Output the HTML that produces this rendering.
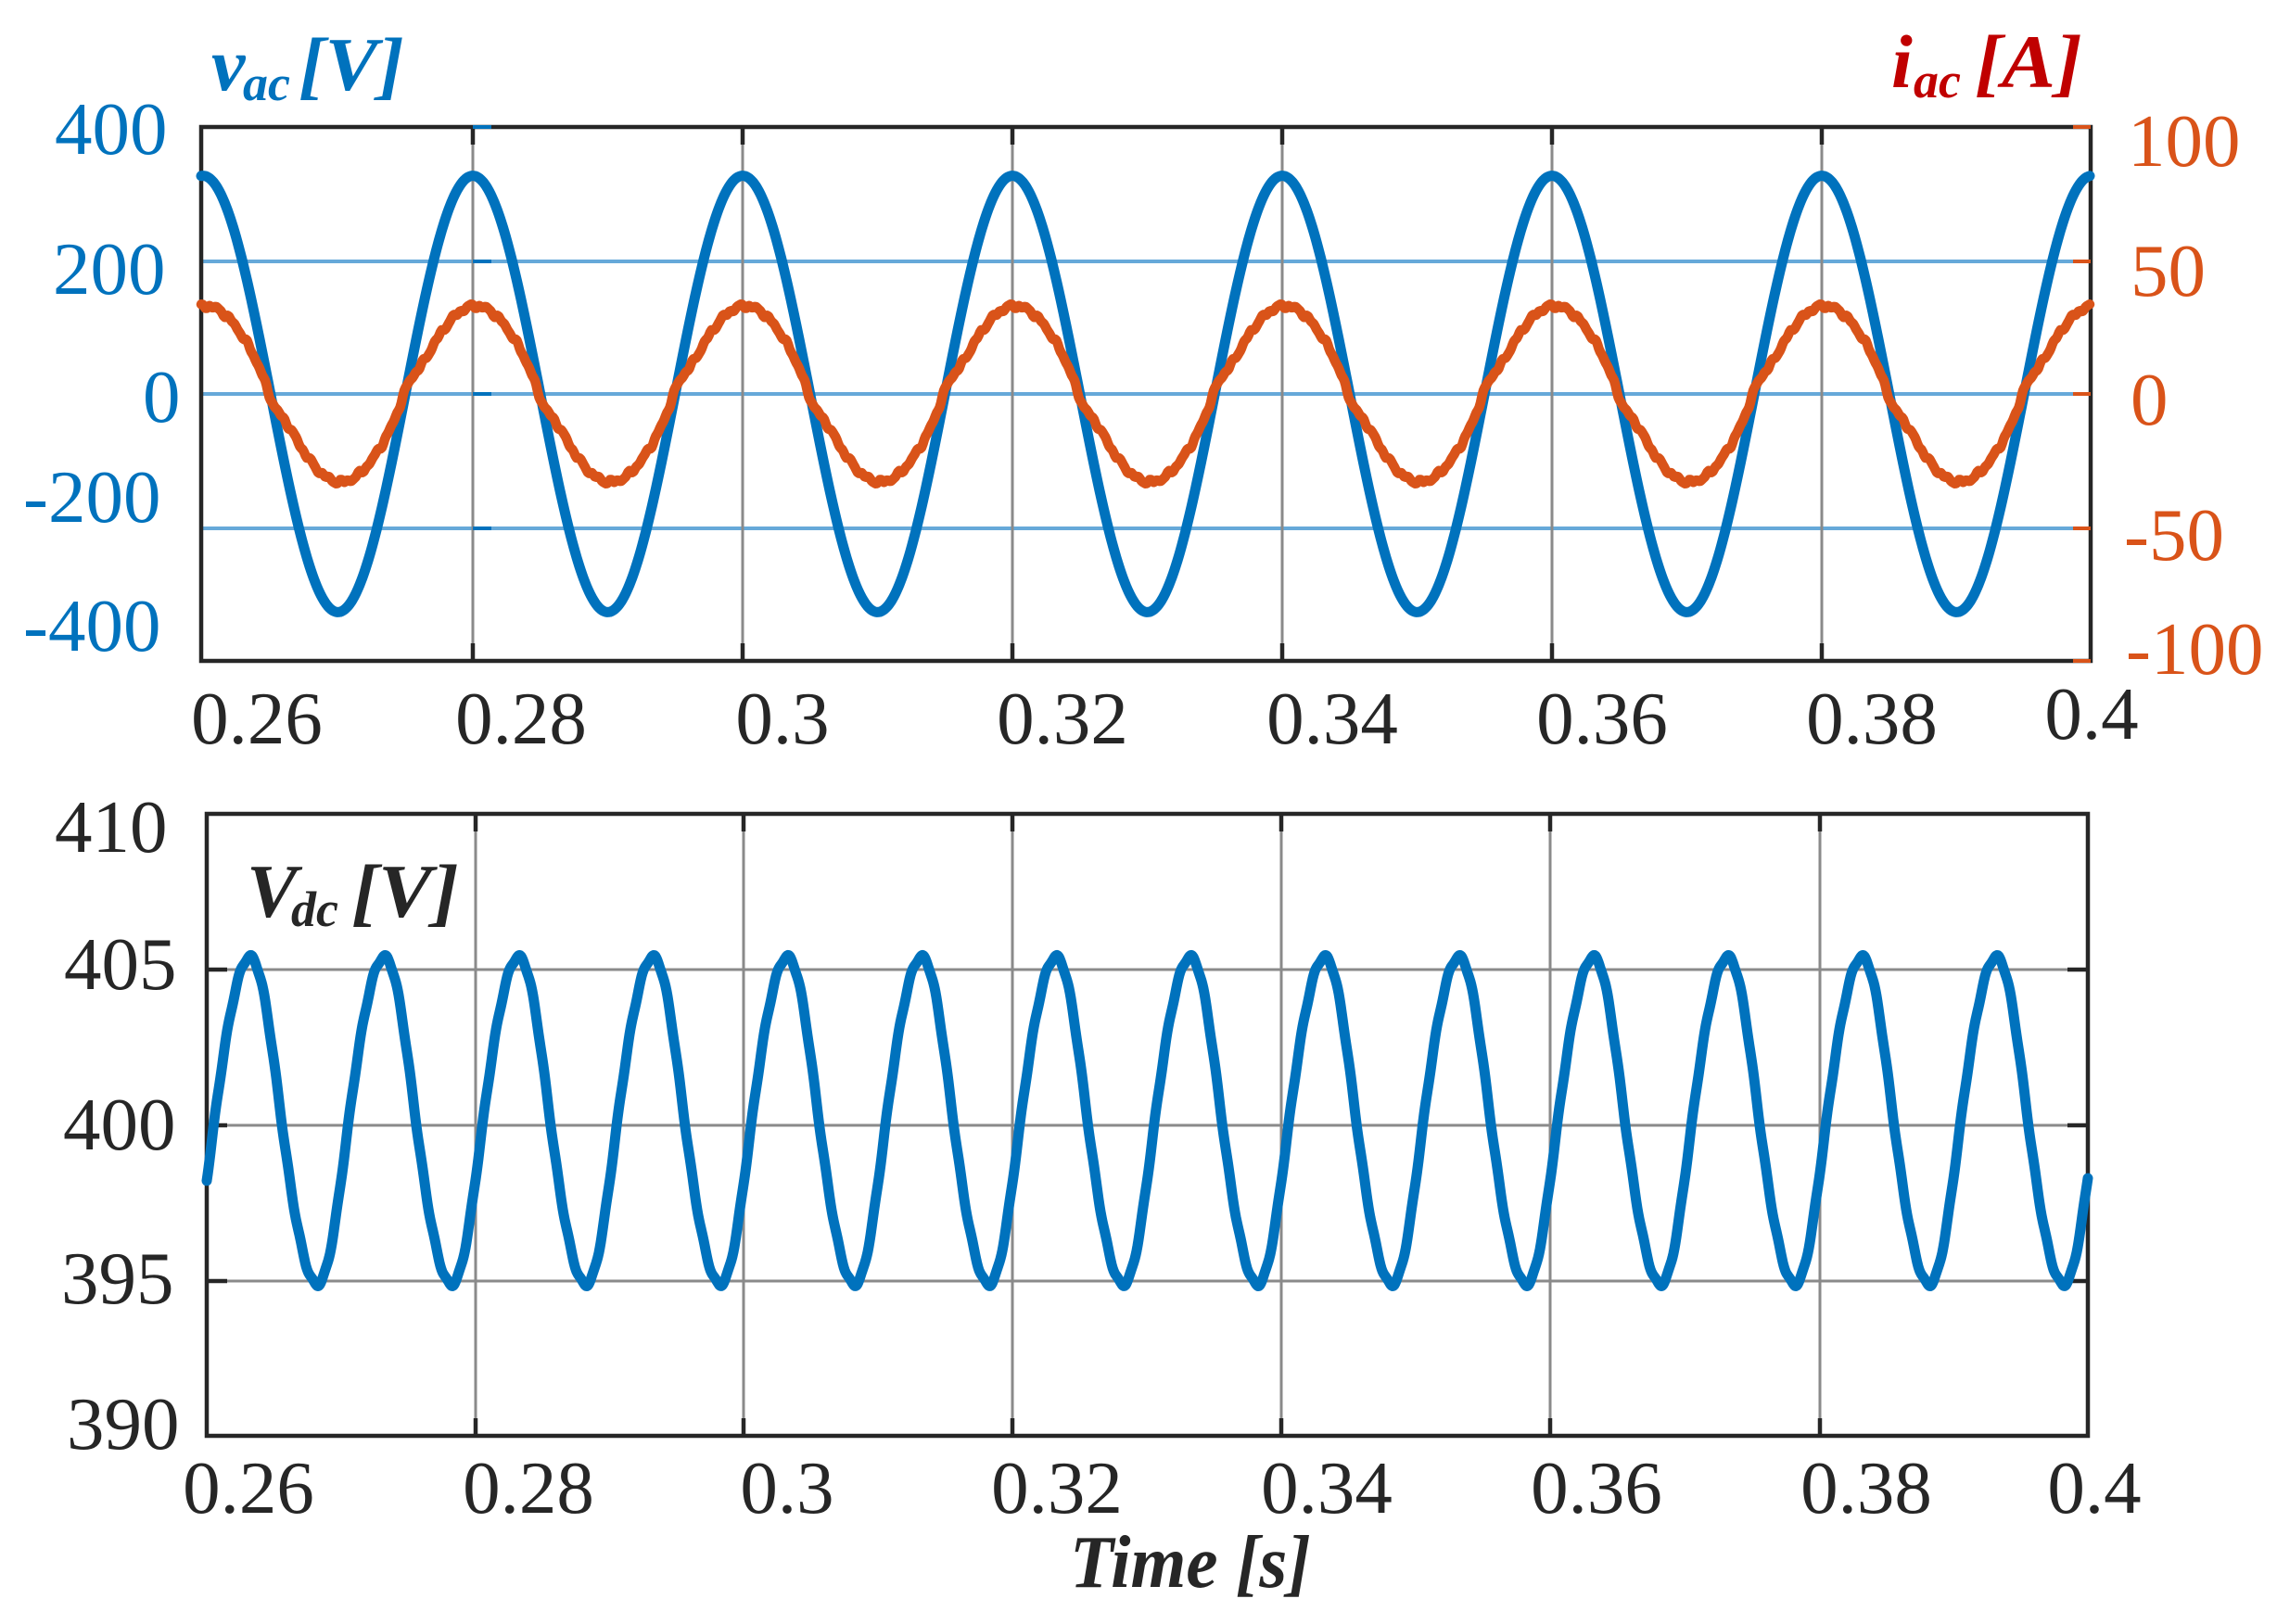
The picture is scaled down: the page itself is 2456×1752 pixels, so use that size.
<!DOCTYPE html>
<html>
<head>
<meta charset="utf-8">
<style>
  html,body{margin:0;padding:0;background:#fff;}
  svg{display:block;}
  text{font-family:"Liberation Serif","Times New Roman",serif;}
</style>
</head>
<body>
<svg id="s" width="2456" height="1752" viewBox="0 0 2456 1752" xmlns="http://www.w3.org/2000/svg">
  <rect x="0" y="0" width="2456" height="1752" fill="#ffffff"/>

  <!-- ============ TOP PLOT ============ -->
  <g stroke="#66A9D9" stroke-width="4">
    <line x1="217" y1="282" x2="2255" y2="282"/>
    <line x1="217" y1="425" x2="2255" y2="425"/>
    <line x1="217" y1="570" x2="2255" y2="570"/>
  </g>
  <g stroke="#8a8a8a" stroke-width="3">
    <line x1="510" y1="137" x2="510" y2="713"/>
    <line x1="801" y1="137" x2="801" y2="713"/>
    <line x1="1092" y1="137" x2="1092" y2="713"/>
    <line x1="1383" y1="137" x2="1383" y2="713"/>
    <line x1="1674" y1="137" x2="1674" y2="713"/>
    <line x1="1965" y1="137" x2="1965" y2="713"/>
  </g>
  <rect x="217" y="137" width="2038" height="576" fill="none" stroke="#262626" stroke-width="4.5"/>
  <g stroke="#262626" stroke-width="4.5">
    <line x1="510" y1="137" x2="510" y2="156"/><line x1="510" y1="694" x2="510" y2="713"/>
    <line x1="801" y1="137" x2="801" y2="156"/><line x1="801" y1="694" x2="801" y2="713"/>
    <line x1="1092" y1="137" x2="1092" y2="156"/><line x1="1092" y1="694" x2="1092" y2="713"/>
    <line x1="1383" y1="137" x2="1383" y2="156"/><line x1="1383" y1="694" x2="1383" y2="713"/>
    <line x1="1674" y1="137" x2="1674" y2="156"/><line x1="1674" y1="694" x2="1674" y2="713"/>
    <line x1="1965" y1="137" x2="1965" y2="156"/><line x1="1965" y1="694" x2="1965" y2="713"/>
  </g>
  <g stroke="#0072BD" stroke-width="4">
    <line x1="510" y1="137" x2="530" y2="137"/>
    <line x1="510" y1="282" x2="530" y2="282"/>
    <line x1="510" y1="425" x2="530" y2="425"/>
    <line x1="510" y1="570" x2="530" y2="570"/>
  </g>
  <g stroke="#D95319" stroke-width="4">
    <line x1="2236" y1="137" x2="2255" y2="137"/>
    <line x1="2236" y1="282" x2="2255" y2="282"/>
    <line x1="2236" y1="425" x2="2255" y2="425"/>
    <line x1="2236" y1="570" x2="2255" y2="570"/>
    <line x1="2236" y1="713" x2="2255" y2="713"/>
  </g>
  <path id="vac" d="" fill="none" stroke="#0072BD" stroke-width="11" stroke-linecap="round" stroke-linejoin="round"/>
  <path id="iac" d="" fill="none" stroke="#D95319" stroke-width="10.5" stroke-linecap="round" stroke-linejoin="round"/>

  <!-- top left labels -->
  <g font-size="81" fill="#0072BD">
    <text x="59" y="166">400</text>
    <text x="57" y="317">200</text>
    <text x="154" y="455">0</text>
    <text x="25" y="563">-200</text>
    <text x="25" y="702">-400</text>
  </g>
  <!-- top right labels -->
  <g font-size="81" fill="#D95319">
    <text x="2295" y="179">100</text>
    <text x="2298" y="319">50</text>
    <text x="2298" y="458">0</text>
    <text x="2291" y="604">-50</text>
    <text x="2293" y="727">-100</text>
  </g>
  <!-- top x labels -->
  <g font-size="81" fill="#262626" text-anchor="middle">
    <text x="277" y="802">0.26</text>
    <text x="562" y="802">0.28</text>
    <text x="844" y="802">0.3</text>
    <text x="1146" y="802">0.32</text>
    <text x="1437" y="802">0.34</text>
    <text x="1728" y="802">0.36</text>
    <text x="2019" y="802">0.38</text>
    <text x="2256" y="797">0.4</text>
  </g>
  <!-- titles top -->
  <g font-weight="bold" font-style="italic" fill="#0072BD">
    <text x="228" y="97" font-size="82">v</text>
    <text x="262" y="108" font-size="54">ac</text>
    <text x="322" y="97" font-size="82" textLength="114" lengthAdjust="spacingAndGlyphs">[V]</text>
  </g>
  <g font-weight="bold" font-style="italic" fill="#C00000">
    <text x="2040" y="94" font-size="82">i</text>
    <text x="2064" y="105" font-size="54">ac</text>
    <text x="2130" y="94" font-size="82" textLength="116" lengthAdjust="spacingAndGlyphs">[A]</text>
  </g>

  <!-- ============ BOTTOM PLOT ============ -->
  <g stroke="#8a8a8a" stroke-width="3">
    <line x1="223" y1="1046" x2="2252" y2="1046"/>
    <line x1="223" y1="1214" x2="2252" y2="1214"/>
    <line x1="223" y1="1382" x2="2252" y2="1382"/>
    <line x1="513" y1="878" x2="513" y2="1549"/>
    <line x1="802" y1="878" x2="802" y2="1549"/>
    <line x1="1092" y1="878" x2="1092" y2="1549"/>
    <line x1="1382" y1="878" x2="1382" y2="1549"/>
    <line x1="1672" y1="878" x2="1672" y2="1549"/>
    <line x1="1963" y1="878" x2="1963" y2="1549"/>
  </g>
  <rect x="223" y="878" width="2029" height="671" fill="none" stroke="#262626" stroke-width="4.5"/>
  <g stroke="#262626" stroke-width="4.5">
    <line x1="223" y1="1046" x2="245" y2="1046"/>
    <line x1="223" y1="1214" x2="245" y2="1214"/>
    <line x1="223" y1="1382" x2="245" y2="1382"/>
    <line x1="2230" y1="1046" x2="2252" y2="1046"/>
    <line x1="2230" y1="1214" x2="2252" y2="1214"/>
    <line x1="2230" y1="1382" x2="2252" y2="1382"/>
    <line x1="513" y1="878" x2="513" y2="897"/><line x1="513" y1="1530" x2="513" y2="1549"/>
    <line x1="802" y1="878" x2="802" y2="897"/><line x1="802" y1="1530" x2="802" y2="1549"/>
    <line x1="1092" y1="878" x2="1092" y2="897"/><line x1="1092" y1="1530" x2="1092" y2="1549"/>
    <line x1="1382" y1="878" x2="1382" y2="897"/><line x1="1382" y1="1530" x2="1382" y2="1549"/>
    <line x1="1672" y1="878" x2="1672" y2="897"/><line x1="1672" y1="1530" x2="1672" y2="1549"/>
    <line x1="1963" y1="878" x2="1963" y2="897"/><line x1="1963" y1="1530" x2="1963" y2="1549"/>
  </g>
  <path id="vdc" d="" fill="none" stroke="#0072BD" stroke-width="11" stroke-linecap="round" stroke-linejoin="round"/>

  <g font-size="81" fill="#262626">
    <text x="59" y="919">410</text>
    <text x="69" y="1067">405</text>
    <text x="68" y="1240">400</text>
    <text x="66" y="1406">395</text>
    <text x="72" y="1563">390</text>
  </g>
  <g font-size="81" fill="#262626" text-anchor="middle">
    <text x="268" y="1632">0.26</text>
    <text x="570" y="1632">0.28</text>
    <text x="849" y="1632">0.3</text>
    <text x="1140" y="1632">0.32</text>
    <text x="1431" y="1632">0.34</text>
    <text x="1722" y="1632">0.36</text>
    <text x="2013" y="1632">0.38</text>
    <text x="2259" y="1632">0.4</text>
  </g>
  <g font-weight="bold" font-style="italic" fill="#262626">
    <text x="266" y="989" font-size="82">V</text>
    <text x="314" y="999" font-size="54">dc</text>
    <text x="379" y="989" font-size="82" textLength="116" lengthAdjust="spacingAndGlyphs">[V]</text>
  </g>
  <text x="1154" y="1712" font-size="80" font-weight="bold" font-style="italic" fill="#262626" textLength="260" lengthAdjust="spacingAndGlyphs">Time [s]</text>
</svg>
<script>
(function(){
  function build(f,x0,x1,step){
    var d='';
    for(var x=x0;x<=x1+0.001;x+=step){
      d+=(x===x0?'M':'L')+x.toFixed(1)+','+f(x).toFixed(1);
    }
    return d;
  }
  var TP=2*Math.PI;
  document.getElementById('vac').setAttribute('d',build(function(x){
    return 425-235.4*Math.cos(TP*(x-510)/291);
  },217,2255,1.5));
  document.getElementById('iac').setAttribute('d',build(function(x){
    var th=TP*(x-513)/291;
    var c=Math.cos(th), s=Math.sin(th);
    var bump=11*s*Math.exp(-Math.pow(c/0.25,2));
    var rip=1.6*Math.sin(th*17+0.7)+1.1*Math.sin(th*29+2.1)+0.8*Math.sin(th*43+1.3);
    return 425-95*c+bump+rip;
  },217,2255,1.5));
  document.getElementById('vdc').setAttribute('d',build(function(x){
    var ph=TP*(x-268)/144.9;
    var v=0.15+5.25*Math.cos(ph)+0.12*Math.sin(3*ph)+0.06*Math.sin(11*ph);
    return 1214-33.6*v;
  },223,2252,1));
})();
</script>
</body>
</html>
